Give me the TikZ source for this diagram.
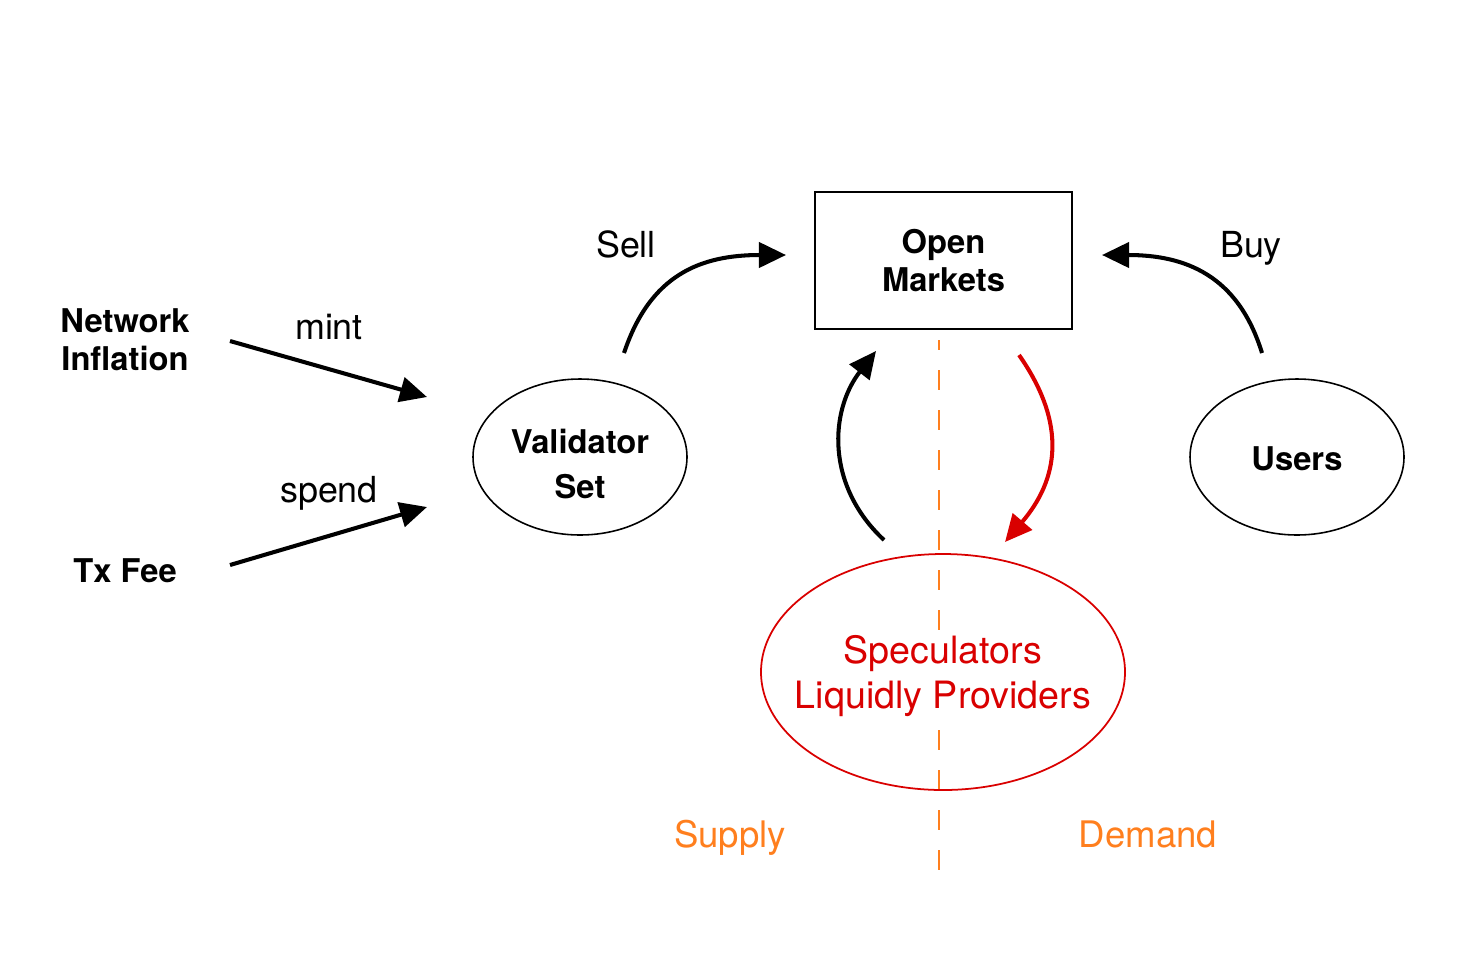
\documentclass[tikz,border=0pt]{standalone}
\usepackage{fontspec}
\setmainfont{TeX Gyre Heros}
\usetikzlibrary{arrows.meta}
\definecolor{specred}{HTML}{D90000}
\definecolor{sdorange}{HTML}{FF7F1E}
\tikzset{
  flow/.style={line width=1.15pt,-{Triangle[length=0.27cm,width=0.25cm]}},
  actor/.style={font=\fontsize{9.3}{10.8}\selectfont\bfseries,align=center},
  verb/.style={font=\fontsize{10.2}{12}\selectfont},
  side/.style={font=\fontsize{10.4}{12}\selectfont,text=sdorange,anchor=base},
}
\begin{document}
\begin{tikzpicture}[x=0.01cm,y=-0.01cm]
                \useasboundingbox (0,0) rectangle (1461,957);
                %% split between supply and demand
                \draw[sdorange,line width=0.65pt,dash pattern=on 0.2cm off 0.2cm,dash phase=0.1cm] (939,340) -- (939,877);
                %% sources
                \node[actor] (inflation) at (125,340) {Network\\Inflation};
                \node[actor] (txfee) at (125,571) {Tx Fee};
                %% holders
                \draw[line width=0.45pt] (580,457) ellipse [x radius=107,y radius=78];
                \node[actor,font=\fontsize{9.3}{13}\selectfont\bfseries] (validators) at (580,464) {Validator\\Set};
                \draw[line width=0.45pt] (1297,457) ellipse [x radius=107,y radius=78];
                \node[actor] (users) at (1297,459) {Users};
                \node[draw,line width=0.6pt,minimum width=2.57cm,minimum height=1.37cm,
                      actor] (markets) at (943.5,260.5) {Open\\Markets};
                \draw[specred,line width=0.5pt] (943,672) ellipse [x radius=182,y radius=118];
                \node[fill=white,inner sep=1pt,text=specred,align=center,font=\fontsize{10.7}{12.8}\selectfont] (specs) at (943,676) {Speculators\\Liquidly Providers};
                %% arrow ends
                \coordinate (mintA) at (230,341);   \coordinate (mintB) at (427,397);
                \coordinate (spendA) at (230,565);  \coordinate (spendB) at (427,507);
                \coordinate (sellA) at (624,353);   \coordinate (sellB) at (786,255);
                \coordinate (buyA) at (1262,353);   \coordinate (buyB) at (1102,255);
                \coordinate (upA) at (884,540);     \coordinate (upB) at (876,351);
                \coordinate (downA) at (1019,355);  \coordinate (downB) at (1005,542);
                %% flows
                \draw[flow] (mintA) -- (mintB);
                \draw[flow] (spendA) -- (spendB);
                \draw[flow] (sellA) .. controls (650,275) and (700,255) .. (sellB);
                \draw[flow] (buyA) .. controls (1238,275) and (1185,255) .. (buyB);
                \draw[flow] (upA) .. controls (825,485) and (830,410) .. (upB);
                \draw[flow,specred] (downA) .. controls (1068,425) and (1058,480) .. (downB);
                %% labels
                \node[verb] at (329,327) {mint};
                \node[verb] at (329,493) {spend};
                \node[verb] at (626,244) {Sell};
                \node[verb] at (1251,248) {Buy};
                \node[side] at (730,847) {Supply};
                \node[side] at (1148,847) {Demand};
            \end{tikzpicture}
\end{document}
